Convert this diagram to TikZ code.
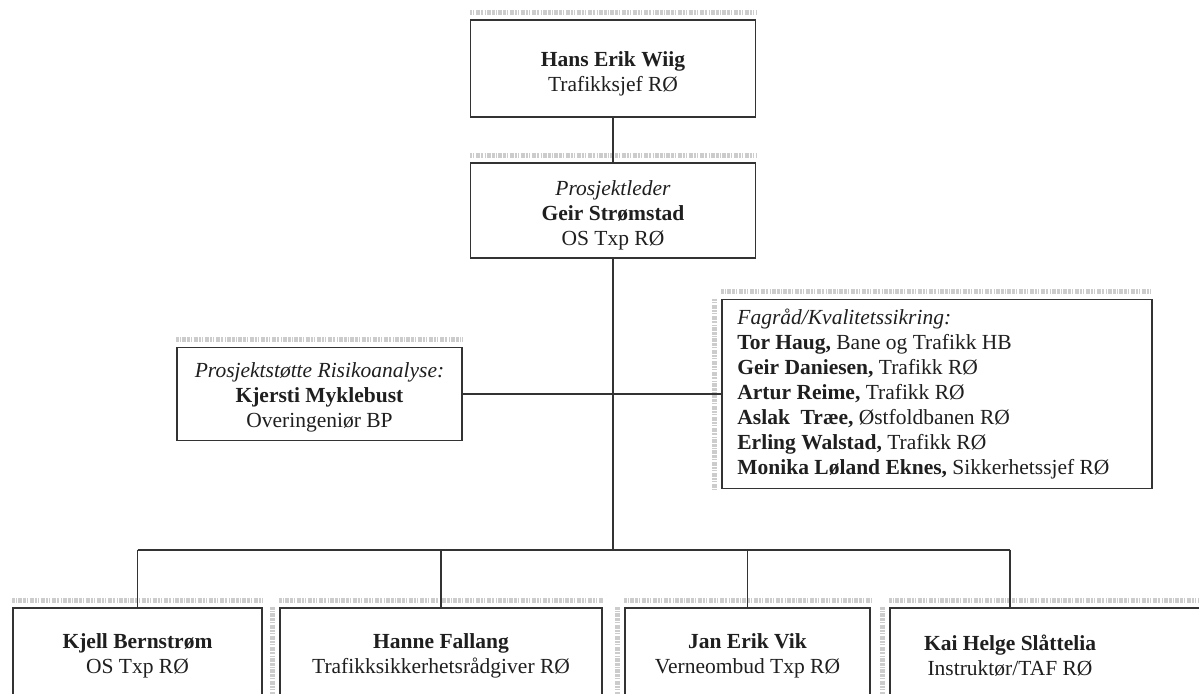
\documentclass[tikz,border=0pt]{standalone}
\usepackage{fontspec}
\setmainfont{Liberation Serif}
\begin{document}
\begin{tikzpicture}[x=0.5pt,y=-0.5pt,
  box/.style={draw=black!80, line width=0.8pt, rectangle, inner sep=0pt},
  txt/.style={align=center, inner sep=0pt, text=black!88, font=\fontsize{10.75pt}{12.5pt}\selectfont},
  ltxt/.style={align=left, inner sep=0pt, text=black!88, font=\fontsize{10.75pt}{12.5pt}\selectfont},
  conn/.style={draw=black!80, line width=0.8pt},
  scan/.style={draw=black!20, line width=2.5pt, dash pattern=on 1.2pt off 0.6pt on 0.4pt off 0.9pt on 2pt off 0.5pt}
]
\clip (0,0) rectangle (1199,694);
\fill[white] (0,0) rectangle (1199,694);

% boxes
\node[box, minimum width=142.5pt, minimum height=48.5pt] (top) at (613,68.5) {};
\node[box, minimum width=142.5pt, minimum height=47.5pt] (lead) at (613,210.5) {};
\node[box, minimum width=142.5pt, minimum height=46.5pt] (risk) at (319.5,394) {};
\node[box, minimum width=215pt, minimum height=94.5pt] (qa) at (937,394) {};
\node[box, minimum width=124.5pt, minimum height=66pt] (b1) at (137.5,674) {};
\node[box, minimum width=161pt, minimum height=66pt] (b2) at (441,674) {};
\node[box, minimum width=122.5pt, minimum height=66pt] (b3) at (747.5,674) {};
\node[box, minimum width=162.5pt, minimum height=66pt] (b4) at (1052.5,674) {};

% scan texture
\foreach \n in {top,lead,risk,qa,b1,b2,b3,b4}{
  \draw[scan] ([yshift=3.5pt]\n.north west) -- ([yshift=3.5pt]\n.north east);
}
\foreach \n in {qa,b2,b3,b4}{
  \draw[scan] ([xshift=-3.5pt]\n.north west) -- ([xshift=-3.5pt]\n.south west);
}

% texts
\node[txt] (topt) at (613,74) {\textbf{Hans Erik Wiig}\\Trafikksjef RØ};
\node[txt] (leadt) at (613,215) {\textit{Prosjektleder}\\\textbf{Geir Strømstad}\\OS Txp RØ};
\node[txt] (riskt) at (319.5,397) {\textit{Prosjektstøtte Risikoanalyse:}\\\textbf{Kjersti Myklebust}\\Overingeniør BP};
\node[ltxt, anchor=west] (qat) at (737,394) {\textit{Fagråd/Kvalitetssikring:}\\
\textbf{Tor Haug,} Bane og Trafikk HB\\
\textbf{Geir Daniesen,} Trafikk RØ\\
\textbf{Artur Reime,} Trafikk RØ\\
\textbf{Aslak\ \ Træe,} Østfoldbanen RØ\\
\textbf{Erling Walstad,} Trafikk RØ\\
\textbf{Monika Løland Eknes,} Sikkerhetssjef RØ};
\node[txt] (b1t) at (137.5,656) {\textbf{Kjell Bernstrøm}\\OS Txp RØ};
\node[txt] (b2t) at (441,656) {\textbf{Hanne Fallang}\\Trafikksikkerhetsrådgiver RØ};
\node[txt] (b3t) at (747.5,656) {\textbf{Jan Erik Vik}\\Verneombud Txp RØ};
\node[txt] (b4t) at (1010,656) {\textbf{Kai Helge Slåttelia}\\Instruktør/TAF RØ};

% connectors
\coordinate (busC) at (613,550);
\coordinate (busL) at (137.5,550);
\coordinate (busR) at (1010,550);
\draw[conn] (top.south) -- (lead.north);
\draw[conn] (lead.south) -- (busC);
\draw[conn] (risk.east) -- (qa.west);
\draw[conn] (busL) -- (busR);
\draw[conn] (busL) -- (b1.north);
\draw[conn] (b2.north |- busC) -- (b2.north);
\draw[conn] (b3.north |- busC) -- (b3.north);
\draw[conn] (busR) -- (busR |- b4.north);
\end{tikzpicture}
\end{document}
